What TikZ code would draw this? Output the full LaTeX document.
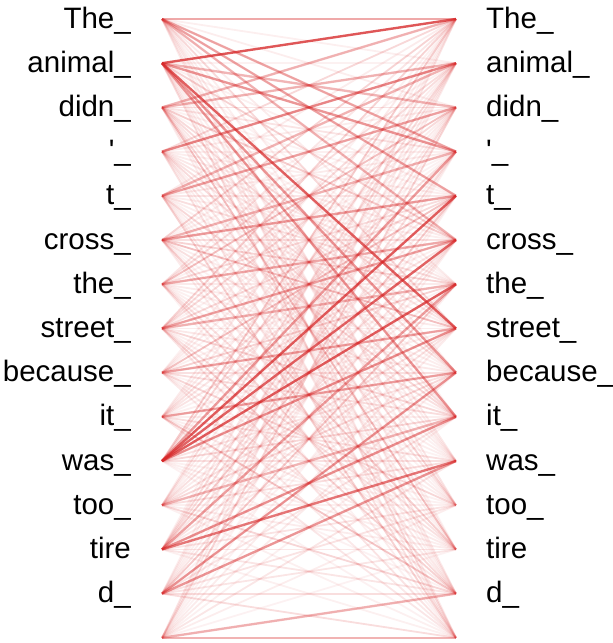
\documentclass[tikz,border=0pt]{standalone}
\usepackage{fontspec}
\setmainfont{Liberation Sans}
\definecolor{attn}{RGB}{214,39,40}
\tikzset{
  word/.style={inner sep=0pt, font=\fontsize{29.5}{31}\selectfont},
  weak/.style={draw=attn, line width=1.8pt},
  strong/.style={draw=attn, line width=2.4pt},
}
\begin{document}
\begin{tikzpicture}[x=1pt,y=-1pt]
\useasboundingbox (0,0) rectangle (613,643);

% token positions, left (from) and right (to)
\foreach \i in {0,...,14} {
  \coordinate (l\i) at (162,19+44.2*\i);
  \coordinate (r\i) at (456,19+44.2*\i);
}

% token labels
\foreach \w [count=\i from 0] in {The\_,animal\_,didn\_,\textquotesingle\_,t\_,cross\_,the\_,street\_,because\_,it\_,was\_,too\_,tire,d\_} {
  \node[word, anchor=base east] (lw\i) at (131,28+44.2*\i) {\w};
  \node[word, anchor=base west] (rw\i) at (486,28+44.2*\i) {\w};
}

% faint attention between every pair
\pgfmathsetseed{42}
\foreach \i in {0,...,14}
  \foreach \j in {0,...,14} {
    \pgfmathsetmacro\op{0.06+0.24*rnd*rnd}
    \draw[weak, draw opacity=\op] (l\i) -- (r\j);
  }

% stronger attention
\foreach \i/\j/\o in {0/0/0.35, 0/3/0.3, 0/4/0.3, 0/5/0.25,
    1/0/0.75, 1/2/0.3, 1/3/0.45, 1/7/0.7, 1/8/0.45, 1/9/0.4,
    2/0/0.3, 2/1/0.3, 3/1/0.5, 4/1/0.3, 4/2/0.35,
    5/3/0.3, 5/4/0.4, 6/5/0.3, 7/5/0.3, 7/6/0.3, 8/7/0.3,
    9/8/0.3, 10/3/0.4, 10/4/0.7, 10/5/0.7, 10/6/0.7, 10/7/0.4,
    11/9/0.3, 12/6/0.4, 12/9/0.45, 12/10/0.6,
    13/8/0.35, 13/10/0.45, 14/13/0.3, 14/14/0.3}
  \draw[strong, draw opacity=\o] (l\i) -- (r\j);

\end{tikzpicture}
\end{document}
